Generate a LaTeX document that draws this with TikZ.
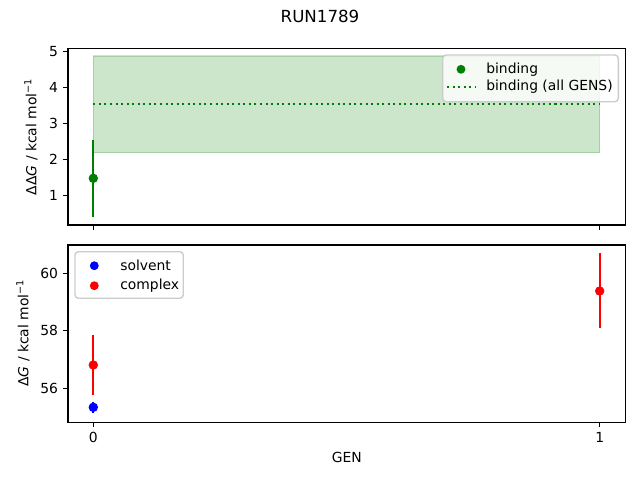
\documentclass[tikz,border=0pt]{standalone}
\usepackage{fontspec}
\setmainfont{DejaVu Sans}
\definecolor{mplgreen}{RGB}{0,128,0}
\definecolor{mplblue}{RGB}{0,0,255}
\definecolor{mplred}{RGB}{255,0,0}
\definecolor{legendedge}{RGB}{204,204,204}
\begin{document}
\begin{tikzpicture}[x=0.72pt, y=-0.72pt,
    spine/.style={line width=0.8pt},
    tick/.style={line width=0.8pt},
    ticklab/.style={font=\fontsize{10}{12}\selectfont, inner sep=0pt},
    axlab/.style={font=\fontsize{10}{12}\selectfont, inner sep=0pt},
    errbar/.style={line width=1.5pt},
    legendbox/.style={draw=legendedge, fill=white, fill opacity=0.8, line width=1pt, rounded corners=2.5pt},
    legendtext/.style={font=\fontsize{10}{12}\selectfont, inner sep=0pt, anchor=west}]
    \useasboundingbox (0,0) rectangle (640,480);

    % title
    \node[font=\fontsize{12}{14}\selectfont, inner sep=0pt] (title) at (320,16) {RUN1789};

    % top axes: binding
    \fill[mplgreen, fill opacity=0.2, draw=mplgreen, draw opacity=0.2, line width=1pt] (93.3,56) rectangle (599.7,152.7);
    \draw[mplgreen, line width=1.5pt, dash pattern=on 1.5pt off 2.5pt] (93.3,104) -- (599.7,104);
    \draw[mplgreen, errbar] (93.3,140) -- (93.3,216.7);
    \fill[mplgreen] (93.3,178.3) circle (3.4pt);
    \draw[spine] (68,48.3) rectangle (625.7,225);

    \draw[tick] (68,51.3) -- ++(-3.5pt,0);
    \draw[tick] (68,87.3) -- ++(-3.5pt,0);
    \draw[tick] (68,123.3) -- ++(-3.5pt,0);
    \draw[tick] (68,159.3) -- ++(-3.5pt,0);
    \draw[tick] (68,195.3) -- ++(-3.5pt,0);
    \draw[tick] (93.3,225) -- ++(0,-3.5pt);
    \draw[tick] (599.7,225) -- ++(0,-3.5pt);

    \node[ticklab, anchor=east, xshift=-7pt] (ytop5) at (68,51.3) {5};
    \node[ticklab, anchor=east, xshift=-7pt] (ytop4) at (68,87.3) {4};
    \node[ticklab, anchor=east, xshift=-7pt] (ytop3) at (68,123.3) {3};
    \node[ticklab, anchor=east, xshift=-7pt] (ytop2) at (68,159.3) {2};
    \node[ticklab, anchor=east, xshift=-7pt] (ytop1) at (68,195.3) {1};

    \node[axlab, rotate=90] (ylabtop) at (31,136.7) {ΔΔ\textit{G} / kcal mol\textsuperscript{−1}};

    % top legend
    \draw[legendbox] (442.7,55) rectangle (618.3,101.7);
    \fill[mplgreen] (461,69.3) circle (3.2pt);
    \node[legendtext] (legbind) at (486,69.3) {binding};
    \draw[mplgreen, line width=1.5pt, dash pattern=on 1.5pt off 2.5pt] (447,86.7) -- (475,86.7);
    \node[legendtext] (legall) at (486,86.7) {binding (all GENS)};

    % bottom axes: solvent and complex
    \draw[mplred, errbar] (93.3,335) -- (93.3,395);
    \fill[mplred] (93.3,365) circle (3.4pt);
    \draw[mplblue, errbar] (93.3,401.7) -- (93.3,413.3);
    \fill[mplblue] (93.3,407.3) circle (3.4pt);
    \draw[mplred, errbar] (599.7,253.3) -- (599.7,328.3);
    \fill[mplred] (599.7,291) circle (3.4pt);
    \draw[spine] (68,245) rectangle (625.7,422.3);

    \draw[tick] (68,273.3) -- ++(-3.5pt,0);
    \draw[tick] (68,330.8) -- ++(-3.5pt,0);
    \draw[tick] (68,388.3) -- ++(-3.5pt,0);
    \draw[tick] (93.3,422.3) -- ++(0,-3.5pt);
    \draw[tick] (599.7,422.3) -- ++(0,-3.5pt);

    \node[ticklab, anchor=east, xshift=-7pt] (ybot60) at (68,273.3) {60};
    \node[ticklab, anchor=east, xshift=-7pt] (ybot58) at (68,330.8) {58};
    \node[ticklab, anchor=east, xshift=-7pt] (ybot56) at (68,388.3) {56};
    \node[ticklab, anchor=north, yshift=-7pt] (xbot0) at (93.3,422.3) {0};
    \node[ticklab, anchor=north, yshift=-7pt] (xbot1) at (599.7,422.3) {1};

    \node[axlab, rotate=90] (ylabbot) at (23,333) {Δ\textit{G} / kcal mol\textsuperscript{−1}};
    \node[axlab] (xlab) at (346.8,457) {GEN};

    % bottom legend
    \draw[legendbox] (75,251.7) rectangle (183.3,298.3);
    \fill[mplblue] (94.3,265.7) circle (3.2pt);
    \node[legendtext] (legsolv) at (120,265.7) {solvent};
    \fill[mplred] (94.3,285.7) circle (3.2pt);
    \node[legendtext] (legcplx) at (120,285.7) {complex};

\end{tikzpicture}
\end{document}
